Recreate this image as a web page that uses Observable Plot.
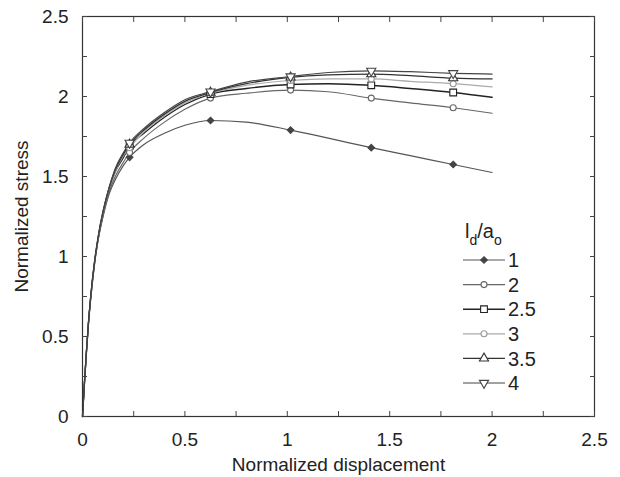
<!DOCTYPE html>
<html>
<head>
<meta charset="utf-8">
<script src="https://cdn.jsdelivr.net/npm/d3@7"></script>
<script src="https://cdn.jsdelivr.net/npm/@observablehq/plot@0.6"></script>
<style>
  html, body { margin: 0; padding: 0; background: #fff; }
  #wrap { position: relative; width: 620px; height: 477px; font-family: "Liberation Sans", Arial, sans-serif; }
  #legend { position: absolute; left: 0; top: 0; }
</style>
</head>
<body>
<div id="wrap"></div>
<script>
// x grid (normalized displacement)
const xs = [0, 0.01, 0.02, 0.03, 0.04, 0.06, 0.08, 0.1, 0.13, 0.16, 0.2, 0.23, 0.3, 0.4, 0.5, 0.625, 0.8, 1.016, 1.2, 1.41, 1.6, 1.81, 2.0];
// marker x positions
const markerX = [0.23, 0.625, 1.016, 1.41, 1.81];
// series labels (l_d / a_o)
const seriesNames = ["1", "2", "2.5", "3", "3.5", "4"];
// normalized stress values per series
const s1   = [0, 0.22, 0.42, 0.60, 0.74, 0.97, 1.13, 1.25, 1.39, 1.48, 1.57, 1.62, 1.70, 1.77, 1.82, 1.85, 1.84, 1.79, 1.74, 1.68, 1.63, 1.575, 1.525];
const s2   = [0, 0.22, 0.42, 0.60, 0.74, 0.97, 1.13, 1.25, 1.40, 1.50, 1.59, 1.65, 1.74, 1.84, 1.92, 1.99, 2.02, 2.04, 2.03, 1.99, 1.96, 1.93, 1.895];
const s25  = [0, 0.22, 0.42, 0.60, 0.74, 0.97, 1.14, 1.27, 1.42, 1.53, 1.62, 1.69, 1.77, 1.87, 1.95, 2.015, 2.05, 2.075, 2.08, 2.07, 2.05, 2.025, 1.995];
const s3   = [0, 0.22, 0.42, 0.60, 0.74, 0.97, 1.14, 1.27, 1.42, 1.53, 1.63, 1.68, 1.78, 1.88, 1.96, 2.02, 2.07, 2.10, 2.11, 2.11, 2.095, 2.08, 2.06];
const s35  = [0, 0.22, 0.42, 0.60, 0.75, 0.98, 1.15, 1.28, 1.43, 1.54, 1.64, 1.70, 1.79, 1.89, 1.97, 2.025, 2.08, 2.12, 2.135, 2.14, 2.13, 2.115, 2.11];
const s4   = [0, 0.22, 0.42, 0.60, 0.75, 0.98, 1.15, 1.28, 1.43, 1.55, 1.65, 1.71, 1.80, 1.90, 1.98, 2.03, 2.09, 2.125, 2.15, 2.16, 2.155, 2.145, 2.14];
// tick values
const majorTicks = [0, 0.5, 1, 1.5, 2, 2.5];
const allTicks = [0, 0.25, 0.5, 0.75, 1, 1.25, 1.5, 1.75, 2, 2.25, 2.5];

const seriesVals = [s1, s2, s25, s3, s35, s4];
const styles = [
  {stroke: "#555", width: 1.2, symbol: "diamond2", fill: "#444", mstroke: "#444", r: 3.0, rotate: 0},
  {stroke: "#666", width: 1.1, symbol: "circle", fill: "white", mstroke: "#666", r: 3.0, rotate: 0},
  {stroke: "#222", width: 1.4, symbol: "square", fill: "white", mstroke: "#222", r: 3.8, rotate: 0},
  {stroke: "#aaa", width: 1.2, symbol: "circle", fill: "white", mstroke: "#999", r: 3.0, rotate: 0},
  {stroke: "#333", width: 1.3, symbol: "triangle", fill: "white", mstroke: "#333", r: 3.4, rotate: 0},
  {stroke: "#444", width: 1.2, symbol: "triangle", fill: "white", mstroke: "#444", r: 3.4, rotate: 180}
];

const lineMarks = [];
const dotMarks = [];
seriesVals.forEach((vals, i) => {
  const data = xs.map((x, j) => ({x, y: vals[j]}));
  const st = styles[i];
  lineMarks.push(Plot.line(data, {x: "x", y: "y", stroke: st.stroke, strokeWidth: st.width, curve: "monotone-x"}));
  const md = data.filter(d => markerX.includes(d.x));
  dotMarks.push(Plot.dot(md, {x: "x", y: "y", symbol: st.symbol, r: st.r, fill: st.fill, stroke: st.mstroke, strokeWidth: 1.1, rotate: st.rotate}));
});

const fontStyle = {fontFamily: "Liberation Sans, Arial, sans-serif", fontSize: "19px", color: "#222", background: "white", overflow: "visible"};

const chart = Plot.plot({
  width: 620,
  height: 477,
  marginLeft: 82,
  marginRight: 26,
  marginTop: 16,
  marginBottom: 61,
  style: fontStyle,
  x: {domain: [0, 2.5]},
  y: {domain: [0, 2.5]},
  marks: [
    ...lineMarks,
    ...dotMarks,
    Plot.frame({stroke: "#333", strokeWidth: 1.2}),
    Plot.axisX({anchor: "bottom", ticks: allTicks, tickSize: -5, tickFormat: () => "", label: null, stroke: "#444"}),
    Plot.axisX({anchor: "top", ticks: allTicks, tickSize: -5, tickFormat: () => "", label: null, stroke: "#444"}),
    Plot.axisY({anchor: "left", ticks: allTicks, tickSize: -5, tickFormat: () => "", label: null, stroke: "#444"}),
    Plot.axisY({anchor: "right", ticks: allTicks, tickSize: -5, tickFormat: () => "", label: null, stroke: "#444"}),
    Plot.axisX({anchor: "bottom", ticks: majorTicks, tickSize: 0, tickPadding: 16, tickFormat: d => String(d), label: "Normalized displacement", labelAnchor: "center", labelArrow: "none", labelOffset: 54, fontSize: 19, fill: "#222"}),
    Plot.axisY({anchor: "left", ticks: majorTicks, tickSize: 0, tickPadding: 14, tickFormat: d => String(d), label: "Normalized stress", labelAnchor: "center", labelArrow: "none", labelOffset: 68, fontSize: 19, fill: "#222"})
  ]
});

const wrap = document.getElementById("wrap");
wrap.appendChild(chart);

// Legend overlay
const leg = d3.select(wrap).append("svg")
  .attr("id", "legend").attr("width", 620).attr("height", 477)
  .style("font-family", "Liberation Sans, Arial, sans-serif");

const title = leg.append("text").attr("x", 465).attr("y", 238).attr("fill", "#222").style("font-size", "20px");
title.append("tspan").text("l");
title.append("tspan").attr("dy", 7).style("font-size", "14px").text("d");
title.append("tspan").attr("dy", -7).text("/a");
title.append("tspan").attr("dy", 7).style("font-size", "14px").text("o");

const symMap = {circle: d3.symbolCircle, square: d3.symbolSquare, triangle: d3.symbolTriangle, diamond2: d3.symbolDiamond2};
seriesNames.forEach((name, i) => {
  const st = styles[i];
  const y = 260 + i * 24.6;
  leg.append("line").attr("x1", 463).attr("x2", 505).attr("y1", y).attr("y2", y)
    .attr("stroke", st.stroke).attr("stroke-width", st.width);
  const area = Math.PI * st.r * st.r;
  leg.append("path").attr("d", d3.symbol(symMap[st.symbol], area)())
    .attr("transform", `translate(484,${y}) rotate(${st.rotate})`)
    .attr("fill", st.fill).attr("stroke", st.mstroke).attr("stroke-width", 1.1);
  leg.append("text").attr("x", 508).attr("y", y).attr("dy", "0.36em")
    .attr("fill", "#222").style("font-size", "20px").text(name);
});
</script>
</body>
</html>
